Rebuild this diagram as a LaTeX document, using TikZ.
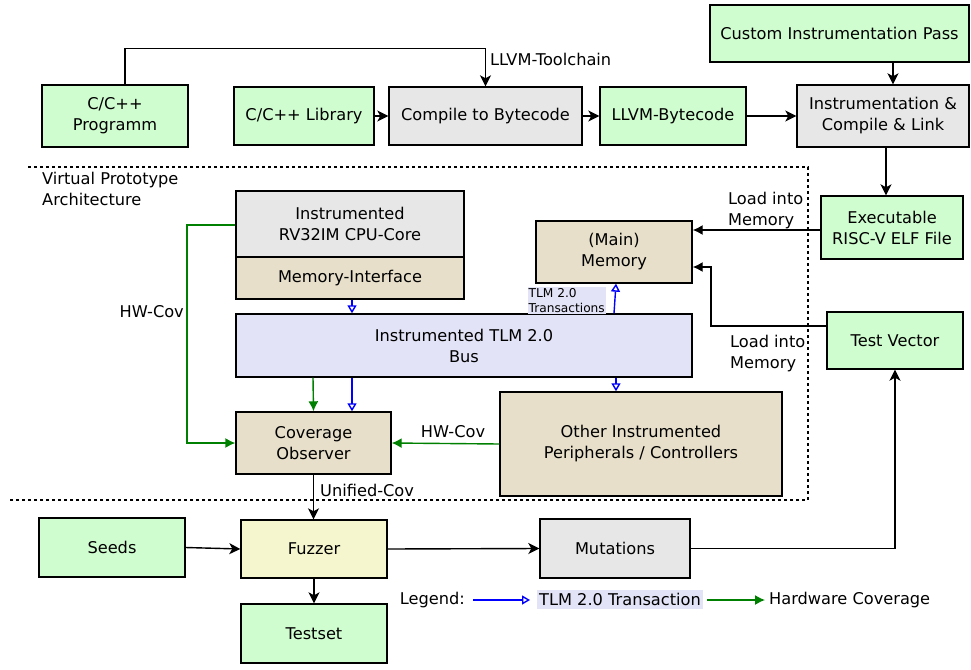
\documentclass[tikz,border=0pt]{standalone}
\usepackage{fontspec}
\setmainfont{DejaVu Sans}
\usetikzlibrary{arrows.meta,positioning}
\definecolor{gfill}{HTML}{D0FDD0}
\definecolor{grayfill}{HTML}{E7E7E7}
\definecolor{tanfill}{HTML}{E7DFCA}
\definecolor{lavfill}{HTML}{E3E3F7}
\definecolor{yelfill}{HTML}{F5F6CE}
\definecolor{covgreen}{HTML}{008000}
\definecolor{tlmblue}{HTML}{0000FF}
\tikzset{
  box/.style={draw=black, line width=1.4pt, inner sep=0pt, align=center,
    font=\fontsize{16.2}{21}\selectfont},
  gbox/.style={box, fill=gfill},
  graybox/.style={box, fill=grayfill},
  tanbox/.style={box, fill=tanfill},
  lbl/.style={inner sep=0pt, font=\fontsize{16.2}{21}\selectfont, align=left},
  arr/.style={line width=1.4pt, -{Stealth[length=11pt,width=11pt,inset=3pt]}},
  larr/.style={line width=1.4pt, -{Latex[length=10pt,width=10pt]}},
  garr/.style={line width=1.4pt, draw=covgreen, -{Latex[length=10pt,width=10pt]}},
  barr/.style={line width=1.4pt, draw=tlmblue, -{Triangle[open,length=8pt,width=9pt]}},
  vpline/.style={line width=1.4pt, dash pattern=on 3pt off 3pt},
}
\begin{document}
\begin{tikzpicture}[x=1pt,y=-1pt]
\useasboundingbox (0,0) rectangle (971,669);
% nodes
\node[gbox, minimum width=146pt, minimum height=62pt] (prog) at (115,116) {C/C++\\Programm};
\node[gbox, minimum width=140pt, minimum height=58pt] (lib) at (304,116) {C/C++ Library};
\node[graybox, minimum width=193pt, minimum height=58pt] (comp) at (485.5,116) {Compile to Bytecode};
\node[gbox, minimum width=146pt, minimum height=58pt] (bc) at (673,116) {LLVM-Bytecode};
\node[gbox, minimum width=259pt, minimum height=57pt] (cust) at (839.5,33.5) {Custom Instrumentation Pass};
\node[graybox, minimum width=172pt, minimum height=62pt] (inst) at (883,116) {Instrumentation \&\\Compile \& Link};
\node[gbox, minimum width=142pt, minimum height=63pt] (elf) at (892,227.5) {Executable\\RISC-V ELF File};
\node[tanbox, minimum width=156pt, minimum height=62pt] (mem) at (614,252) {(Main)\\Memory};
\node[gbox, minimum width=136pt, minimum height=57pt] (tv) at (895,340.5) {Test Vector};
\node[graybox, minimum width=228pt, minimum height=66pt] (cpu) at (350,224) {Instrumented\\RV32IM CPU-Core};
\node[tanbox, minimum width=228pt, minimum height=42pt] (mif) at (350,278) {Memory-Interface};
\node[box, fill=lavfill, minimum width=456pt, minimum height=63pt] (bus) at (464,345.5) {Instrumented TLM 2.0\\Bus};
\node[tanbox, minimum width=155pt, minimum height=62pt] (cov) at (313.5,443) {Coverage\\Observer};
\node[tanbox, minimum width=282pt, minimum height=104pt] (oth) at (641,444) {Other Instrumented\\Peripherals / Controllers};
\node[gbox, minimum width=146pt, minimum height=59pt] (seeds) at (112,547.5) {Seeds};
\node[box, fill=yelfill, minimum width=146pt, minimum height=58pt] (fuzz) at (314,549) {Fuzzer};
\node[graybox, minimum width=150pt, minimum height=59pt] (mut) at (615,548.5) {Mutations};
\node[gbox, minimum width=146pt, minimum height=59pt] (test) at (314,633.5) {Testset};
% dotted region
\draw[vpline] (28,167) -- (808,167) -- (808,500) -- (9,500);
\node[lbl, anchor=north west] (vpa) at (42,172) {Virtual Prototype\\Architecture};
% toolchain
\draw[arr] ([xshift=10pt]prog.north) -- ++(0,-36) -| (comp.north);
\node[lbl, anchor=west] (tc) at (490,59) {LLVM-Toolchain};
\draw[arr] (lib.east) -- (comp.west);
\draw[arr] (comp.east) -- (bc.west);
\draw[arr] (bc.east) -- (inst.west);
\draw[arr] ([xshift=53.5pt]cust.south) -- ([xshift=10pt]inst.north);
\draw[arr] ([xshift=3pt]inst.south) -- ([xshift=3pt]inst.south |- elf.north);
% load into memory
\draw[larr] ([yshift=-2.5pt]elf.west) -- ([yshift=-2.5pt]elf.west -| mem.east);
\node[lbl, anchor=north west] (l1) at (728,192) {Load into\\Memory};
\coordinate (tvbend) at (711,326);
\draw[larr] ([yshift=14.5pt]tv.west) -- (tvbend) |- ([yshift=-15pt]mem.east);
\node[lbl, anchor=north west] (l2) at (730,335) {Load into\\Memory};
% fuzz loop
\draw[arr] (cov.south) -- (cov.south |- fuzz.north);
\node[lbl, anchor=west] (uc) at (320,490) {Unified-Cov};
\draw[arr] (seeds.east) -- (fuzz.west);
\draw[arr] (fuzz.east) -- (mut.west);
\draw[arr] (fuzz.south) -- (test.north);
\draw[arr] (mut.east) -| (tv.south);
% TLM transactions
\draw[barr] ([xshift=2pt]mif.south) -- ([xshift=2pt]mif.south |- bus.north);
\draw[barr] (mem.south |- bus.north) -- ([xshift=2pt]mem.south);
\node[inner sep=1pt, fill=lavfill, font=\fontsize{12.2}{15.5}\selectfont, align=left, anchor=south east] (tlml) at (606,314) {TLM 2.0\\Transactions};
\draw[barr] ([xshift=-112pt]bus.south) -- ([xshift=38.5pt]cov.north);
\draw[barr] ([xshift=152pt]bus.south) -- ([xshift=-25pt]oth.north);
% HW coverage
\draw[garr] ([xshift=-151pt]bus.south) -- (cov.north);
\draw[garr] (oth.west) -- (cov.east);
\node[lbl, anchor=south] (hw2) at (453,438) {HW-Cov};
\draw[garr] ([yshift=-1pt]cpu.west) -- (187,225) |- (cov.west);
\node[lbl, anchor=east] (hw1) at (184,312) {HW-Cov};
% legend
\node[lbl, anchor=east] (leg) at (465,600) {Legend:};
\coordinate (lb1) at (473,600);
\coordinate (lb2) at (530,600);
\draw[barr] (lb1) -- (lb2);
\node[fill=lavfill, inner sep=0pt, minimum height=19pt, minimum width=166pt, font=\fontsize{16.2}{21}\selectfont] (legt) at (620,599.5) {TLM 2.0 Transaction};
\coordinate (lg1) at (707,600);
\coordinate (lg2) at (765,600);
\draw[garr] (lg1) -- (lg2);
\node[lbl, anchor=west] (legh) at (769,600) {Hardware Coverage};
\end{tikzpicture}
\end{document}
